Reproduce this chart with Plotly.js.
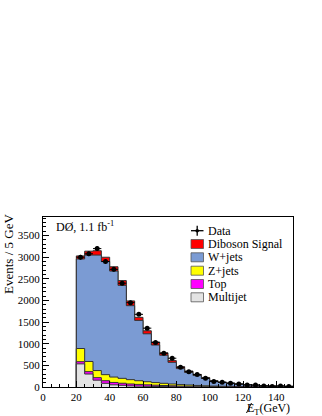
<!DOCTYPE html>
<html>
<head>
<meta charset="utf-8">
<script src="https://cdn.plot.ly/plotly-3.0.1.min.js"></script>
<style>html,body{margin:0;padding:0;background:#fff;}#chart{width:322px;height:416px;}</style>
</head>
<body>
<div id="chart"></div>
<script>
// Bin lower edges (GeV), bin width 5 GeV
const binLo = [20,25,30,35,40,45,50,55,60,65,70,75,80,85,90,95,100,105,110,115,120,125,130,135,140,145];
const binHi = 150;
// Stacked background components (events / 5 GeV)
const multijet = [535,300,158,85,50,39,25,20,15,12,10,8,6,5,4,3,2,2,1,1,1,1,0,0,0,0];
const topq     = [50,55,58,60,55,48,45,40,35,30,25,20,16,13,10,8,6,5,4,3,2,2,1,1,1,1];
const zjets    = [305,235,164,140,125,113,100,85,72,60,50,42,34,28,22,17,14,11,9,7,6,5,4,3,3,2];
const wjets    = [2070,2460,2670,2615,2450,2150,1710,1395,1108,868,650,500,369,289,229,172,113,87,71,51,41,32,27,21,16,13];
const diboson  = [70,90,100,100,100,110,110,70,70,70,55,40,45,35,25,20,15,10,10,8,5,5,3,3,2,2];
const dataN    = [3000,3080,3200,2900,2720,2400,1950,1680,1360,1030,780,665,455,355,290,200,125,108,85,70,48,45,25,10,25,12];

const names  = ["Diboson Signal","W+jets","Z+jets","Top","Multijet"];
const colors = ["#ff0000","#7b9bd3","#ffff00","#ff00ff","#e3e3e3"];

// cumulative stacks (bottom -> top)
const comps = [multijet, topq, zjets, wjets, diboson];
const cum = [];
let run = binLo.map(()=>0);
for (const c of comps){ run = run.map((v,i)=>v+c[i]); cum.push(run.slice()); }
// order for drawing: top-most cumulative first
const stackTop = [cum[4],cum[3],cum[2],cum[1],cum[0]];

const traces = [];
stackTop.forEach((c,k)=>{
  const xs = [binLo[0], ...binLo, binHi, binHi];
  const ys = [0, ...c, c[c.length-1], 0];
  traces.push({type:'scatter', mode:'lines', x:xs, y:ys, line:{shape:'hv', color:'#333', width:1},
    fill:'toself', fillcolor:colors[k], name:names[k], showlegend:false, hoverinfo:'skip'});
});
const centers = binLo.map(v=>v+2.5);
traces.push({type:'scatter', mode:'markers', x:centers, y:dataN, name:'Data', showlegend:false,
  marker:{color:'#000', size:5},
  error_y:{type:'data', array:dataN.map(v=>Math.sqrt(v)), color:'#000', thickness:1, width:0},
  error_x:{type:'constant', value:2.5, color:'#000', thickness:1, width:0}});

// custom legend
const shapes = [];
const annotations = [];
const toPX = px => (px-43)/250, toPY = py => (387-py)/170;
const legNames = ["Data"].concat(names);
const rowY = [230.7,244,257.3,270.7,284,297.3];
legNames.forEach((nm,i)=>{
  const y = rowY[i];
  if(i===0){
    shapes.push({type:'line', xref:'paper', yref:'paper', x0:toPX(191), x1:toPX(203.5), y0:toPY(y), y1:toPY(y), line:{color:'#000', width:1.3}});
    shapes.push({type:'line', xref:'paper', yref:'paper', x0:toPX(197.2), x1:toPX(197.2), y0:toPY(y-5), y1:toPY(y+5), line:{color:'#000', width:1.3}});
    shapes.push({type:'circle', xref:'paper', yref:'paper', x0:toPX(195.4), x1:toPX(199), y0:toPY(y+1.8), y1:toPY(y-1.8), fillcolor:'#000', line:{color:'#000', width:0}});
  } else {
    shapes.push({type:'rect', xref:'paper', yref:'paper', x0:toPX(191), x1:toPX(203.5), y0:toPY(y+4.5), y1:toPY(y-4.5), fillcolor:colors[i-1], line:{color:'#555', width:0.8}});
  }
  annotations.push({xref:'paper', yref:'paper', x:toPX(206), y:toPY(y), xanchor:'left', yanchor:'middle', text:nm, showarrow:false,
    font:{family:'Liberation Serif', size:12, color:'#000'}});
});
annotations.push({xref:'paper', yref:'paper', x:toPX(54), y:toPY(226), xanchor:'left', yanchor:'middle',
  text:'DØ, 1.1 fb<sup>-1</sup>', showarrow:false, font:{family:'Liberation Serif', size:12, color:'#000'}});
annotations.push({xref:'paper', yref:'paper', x:toPX(8), y:toPY(212), xanchor:'center', yanchor:'top', textangle:-90,
  text:'Events / 5 GeV', showarrow:false, font:{family:'Liberation Serif', size:13, color:'#000'}});
// missing-ET title: E with slash overlay
annotations.push({xref:'paper', yref:'paper', x:toPX(245), y:toPY(409), xanchor:'left', yanchor:'middle',
  text:'E<sub>T</sub>(GeV)', showarrow:false, font:{family:'Liberation Serif', size:12, color:'#000'}});
shapes.push({type:'line', xref:'paper', yref:'paper', x0:toPX(246.5), y0:toPY(413), x1:toPX(251.5), y1:toPY(403), line:{color:'#000', width:1}});

const layout = {
  width:322, height:416, paper_bgcolor:'#fff', plot_bgcolor:'#fff',
  margin:{l:43, r:29, t:217, b:29},
  showlegend:false,
  font:{family:'Liberation Serif', size:11, color:'#000'},
  xaxis:{range:[0,150], dtick:20, tick0:0, ticks:'inside', ticklen:6, tickcolor:'#000', showgrid:false, zeroline:false,
    showline:true, linecolor:'#000', linewidth:1, mirror:true, tickfont:{size:11},
    minor:{dtick:5, ticks:'inside', ticklen:3, tickcolor:'#000', showgrid:false}},
  yaxis:{range:[0,3930], dtick:500, tick0:0, ticks:'inside', ticklen:6, tickcolor:'#000', showgrid:false, zeroline:false,
    showline:true, linecolor:'#000', linewidth:1, mirror:true, tickfont:{size:11},
    minor:{dtick:100, ticks:'inside', ticklen:3, tickcolor:'#000', showgrid:false}},
  shapes:shapes, annotations:annotations
};
Plotly.newPlot('chart', traces, layout, {displayModeBar:false, staticPlot:true});
</script>
</body>
</html>
